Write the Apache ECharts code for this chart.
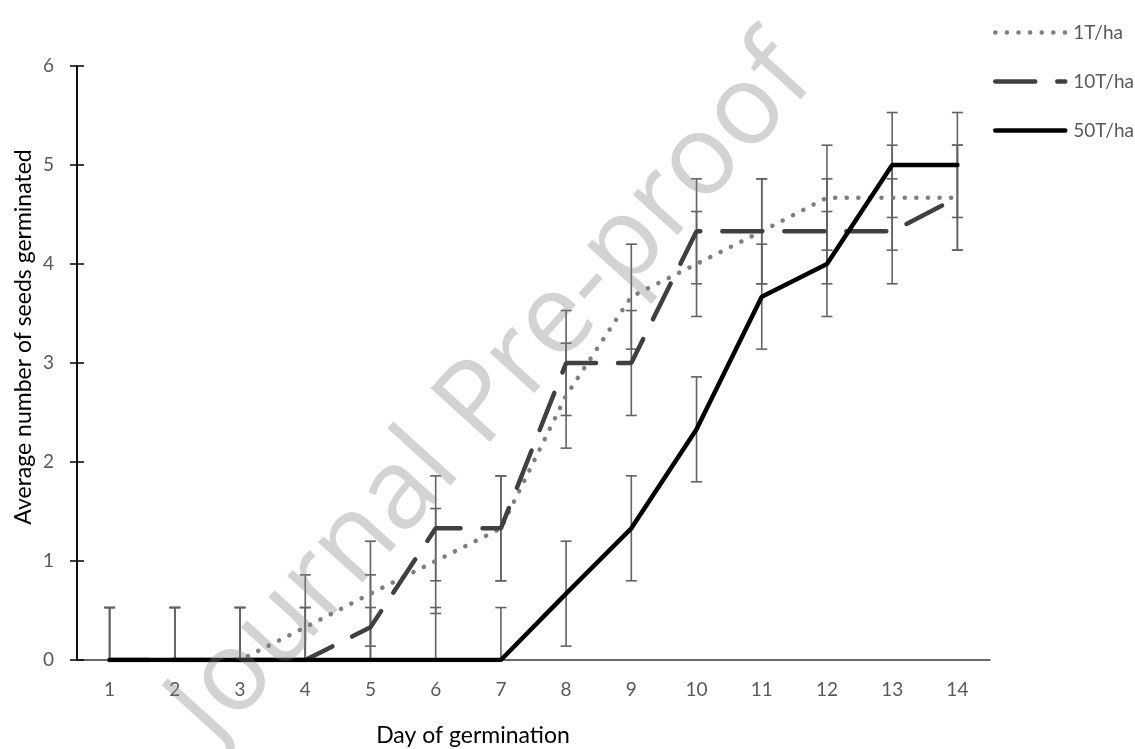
<!DOCTYPE html>
<html><head><meta charset="utf-8">
<script src="https://cdn.jsdelivr.net/npm/echarts@6/dist/echarts.min.js"></script>
<style>html,body{margin:0;padding:0;background:#fff}#c{width:1135px;height:749px}</style>
</head><body><div id="c"></div>
<script>
const days = ['1','2','3','4','5','6','7','8','9','10','11','12','13','14'];
const yTicks = [0,1,2,3,4,5,6];
const s1T  = [0,0,0,0.33,0.67,1,1.33,2.67,3.67,4,4.33,4.67,4.67,4.67];
const s10T = [0,0,0,0,0.33,1.33,1.33,3,3,4.33,4.33,4.33,4.33,4.67];
const s50T = [0,0,0,0,0,0,0,0.67,1.33,2.33,3.67,4,5,5];
const e1T  = [0.53,0.53,0.53,0.53,0.53,0.53,0.53,0.53,0.53,0.53,0.53,0.53,0.53,0.53];
const e10T = [0.53,0.53,0.53,0.53,0.53,0.53,0.53,0.53,0.53,0.53,0.53,0.53,0.53,0.53];
const e50T = [0.53,0.53,0.53,0.53,0.53,0.53,0.53,0.53,0.53,0.53,0.53,0.53,0.53,0.53];
const names = ['1T/ha','10T/ha','50T/ha'];

const FONT = 'Lato';
const chart = echarts.init(document.getElementById('c'));

const styles = {
  '1T/ha':  { color: '#7f7f7f', width: 4.5, type: [0.1, 11.5], cap: 'round' },
  '10T/ha': { color: '#404040', width: 4.5, type: [40, 22], cap: 'round' },
  '50T/ha': { color: '#000000', width: 4.5, type: 'solid', cap: 'round' }
};

function errSeries(vals, errs) {
  return {
    type: 'custom', z: 1, silent: true,
    data: vals.map((v, i) => [i, v, errs[i]]),
    renderItem: function (params, api) {
      const i = api.value(0), v = api.value(1), e = api.value(2);
      const lo = Math.max(0, v - e), hi = v + e;
      const pHi = api.coord([i, hi]);
      const pLo = api.coord([i, lo]);
      const w = 5.5;
      const st = { stroke: '#636363', lineWidth: 1.6 };
      const ch = [
        { type: 'line', shape: { x1: pHi[0], y1: pHi[1], x2: pLo[0], y2: pLo[1] }, style: st },
        { type: 'line', shape: { x1: pHi[0] - w, y1: pHi[1], x2: pHi[0] + w, y2: pHi[1] }, style: st }
      ];
      if (v - e >= 0) ch.push({ type: 'line', shape: { x1: pLo[0] - w, y1: pLo[1], x2: pLo[0] + w, y2: pLo[1] }, style: st });
      return { type: 'group', children: ch };
    }
  };
}

function lineSeries(name, vals) {
  const s = styles[name];
  return {
    name: name, type: 'line', data: vals, symbol: 'none', z: 3,
    lineStyle: { color: s.color, width: s.width, type: s.type, cap: s.cap },
    itemStyle: { color: s.color }
  };
}

const option = {
  backgroundColor: '#fff',
  animation: false,
  grid: { left: 77, right: 145, top: 66, bottom: 89, containLabel: false },
  legend: {
    orient: 'vertical', left: 988, top: 18, itemWidth: 70, itemHeight: 14, itemGap: 30,
    textStyle: { fontFamily: FONT, fontSize: 19, color: '#595959', padding: [0, 0, 0, 3] },
    itemStyle: { opacity: 0 },
    data: names.map(n => ({
      name: n,
      itemStyle: { opacity: 0 },
      lineStyle: { color: styles[n].color, width: 4.5, type: styles[n].type, cap: 'round' }
    }))
  },
  xAxis: {
    type: 'category', data: days, boundaryGap: true,
    axisLine: { lineStyle: { color: '#3a3a3a', width: 1.5 } },
    axisTick: { show: false },
    axisLabel: { fontFamily: FONT, fontSize: 19, color: '#595959', margin: 20 },
    splitLine: { show: false }
  },
  yAxis: [{
    type: 'value', min: yTicks[0], max: yTicks[yTicks.length - 1], interval: 1,
    axisLine: { show: true, lineStyle: { color: '#000', width: 1.5 } },
    axisTick: { show: true, length: 7, lineStyle: { color: '#000', width: 1.5 } },
    axisLabel: { fontFamily: FONT, fontSize: 19, color: '#595959', margin: 23 },
    splitLine: { show: false }
  }, {
    type: 'value', min: yTicks[0], max: yTicks[yTicks.length - 1], interval: 1, position: 'left',
    axisLine: { show: true, lineStyle: { color: '#000', width: 1.5 } },
    axisTick: { show: true, inside: true, length: 7, lineStyle: { color: '#000', width: 1.5 } },
    axisLabel: { show: false },
    splitLine: { show: false }
  }],
  series: [
    errSeries(s1T, e1T),
    errSeries(s10T, e10T),
    errSeries(s50T, e50T),
    lineSeries(names[0], s1T),
    lineSeries(names[1], s10T),
    lineSeries(names[2], s50T)
  ],
  graphic: [
    { type: 'text', x: 24, y: 337, z: 10, rotation: Math.PI / 2,
      style: { text: 'Average number of seeds germinated', fontFamily: FONT, fontSize: 23, fill: '#000', align: 'center', verticalAlign: 'middle' } },
    { type: 'text', x: 473, y: 736, z: 10,
      style: { text: 'Day of germination', fontFamily: FONT, fontSize: 23, fill: '#000', align: 'center', verticalAlign: 'middle' } },
    { type: 'text', x: 492, y: 392, z: 100, rotation: 47.8 * Math.PI / 180, silent: true,
      style: { text: 'Journal Pre-proof', fontFamily: 'Open Sans', fontSize: 112, fill: 'rgba(128,128,128,0.35)', align: 'center', verticalAlign: 'middle' } }
  ]
};
chart.setOption(option);
</script></body></html>
